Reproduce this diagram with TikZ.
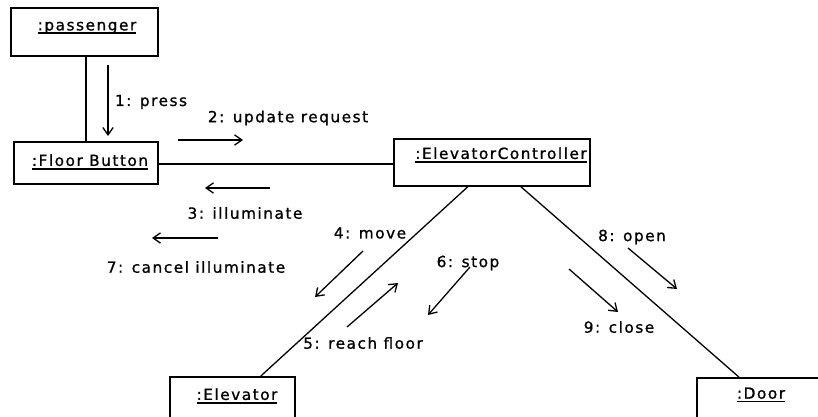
\documentclass[tikz,border=0pt]{standalone}
\usepackage{fontspec}
\setmainfont{DejaVu Sans}[LetterSpace=10, FakeBold=1]
\usetikzlibrary{arrows.meta}
% underlined object name with a heavy rule
\newcommand\objul[1]{\setbox0\hbox{#1}\leavevmode\rlap{\vrule width\wd0 height -2pt depth 3.8pt}\box0}
\begin{document}
\begin{tikzpicture}[x=1pt,y=-1pt,
  every node/.style={font=\fontsize{15.3}{18}\selectfont, inner sep=0pt},
  objbox/.style={draw, line width=1.7pt, rectangle, anchor=north west},
  link/.style={line width=1.3pt},
  msg/.style={line width=1.3pt, -{Straight Barb[angle=70:9pt, line width=1.3pt]}}]
\useasboundingbox (0,0) rectangle (818,417);
\clip (0,0) rectangle (818,417);

% objects
\node[objbox, minimum width=147pt, minimum height=48pt] (pass) at (10,7) {};
\node (passname) at (87,28) {\objul{:passenger}};
\node[objbox, minimum width=144pt, minimum height=42pt] (fb) at (13,141) {};
\node (fbname) at (90,162) {\objul{:Floor Button}};
\node[objbox, minimum width=196pt, minimum height=47pt] (ec) at (393,138) {};
\node (ecname) at (501,155) {\objul{:ElevatorController}};
\node[objbox, minimum width=125pt, minimum height=60pt] (elev) at (169,376) {};
\node (elevname) at (237,396) {\objul{:Elevator}};
\node[objbox, minimum width=140pt, minimum height=60pt] (door) at (696,377) {};
\node (doorname) at (761,395) {\objul{:Door}};

% links
\draw[link] ([xshift=1.5pt]pass.south) -- (fb.north);
\draw[link] ([yshift=-1pt]fb.east) -- ([yshift=-1.5pt]ec.west);
\draw[link] ([xshift=-24pt]ec.south) -- ([xshift=28.5pt]elev.north);
\draw[link] ([xshift=29pt]ec.south) -- ([xshift=-28pt]door.north);

% messages
\coordinate (m1a) at (108,65);  \coordinate (m1b) at (108,136);
\coordinate (m2a) at (178,140); \coordinate (m2b) at (243,140);
\coordinate (m3a) at (270,188); \coordinate (m3b) at (205,188);
\coordinate (m7a) at (218,238); \coordinate (m7b) at (152,238);
\coordinate (m4a) at (363,251); \coordinate (m4b) at (315,297);
\coordinate (m5a) at (347,327); \coordinate (m5b) at (398,283);
\coordinate (m6a) at (470,267); \coordinate (m6b) at (428,315);
\coordinate (m8a) at (628,248); \coordinate (m8b) at (677,289);
\coordinate (m9a) at (569,269); \coordinate (m9b) at (618,312);
\foreach \m in {1,...,9} \draw[msg] (m\m a) -- (m\m b);

% message labels
\node (l1) at (151,102) {1: press};
\node (l2) at (288,118) {2: update request};
\node (l3) at (245,213) {3: illuminate};
\node (l7) at (196,267) {7: cancel illuminate};
\node (l4) at (370,233) {4: move};
\node (l5) at (363,343) {5: reach floor};
\node (l6) at (468,263) {6: stop};
\node (l8) at (632,237) {8: open};
\node (l9) at (619,327) {9: close};
\end{tikzpicture}
\end{document}
